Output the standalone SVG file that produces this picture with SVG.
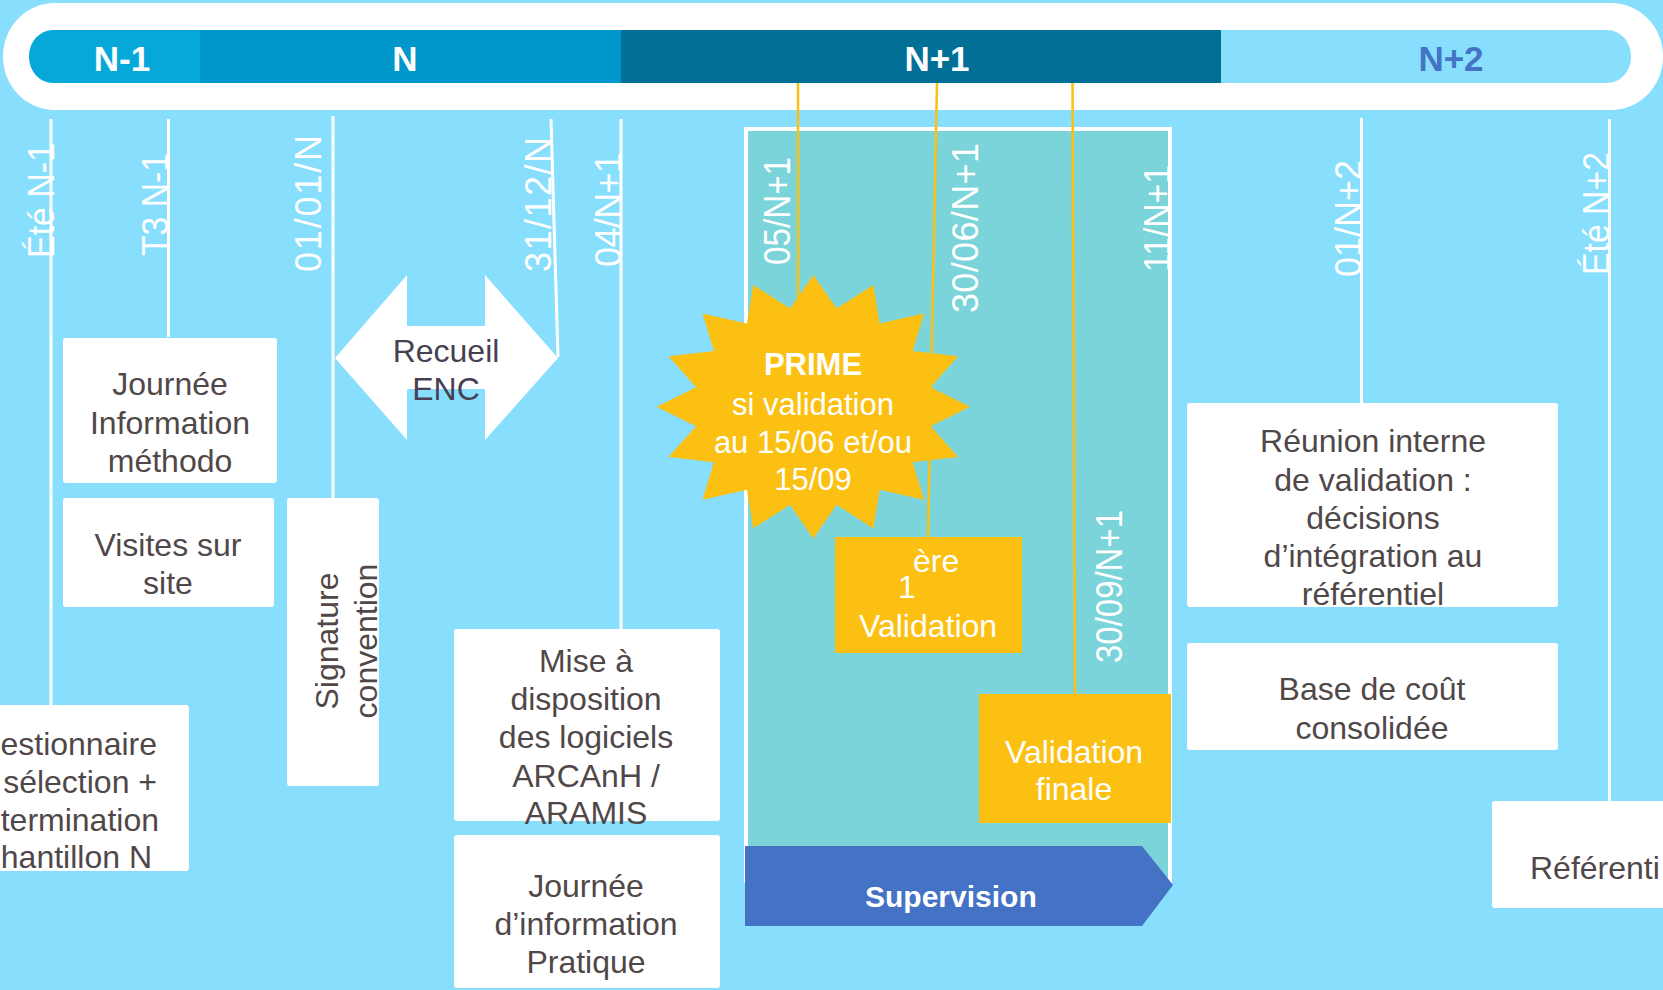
<svg xmlns="http://www.w3.org/2000/svg" width="1663" height="990" viewBox="0 0 1663 990">
<style>
.t{font-family:"Liberation Sans",Arial,sans-serif;font-size:32px;fill:#504848;text-anchor:middle}
.w{font-family:"Liberation Sans",Arial,sans-serif;font-size:32px;fill:#fff;text-anchor:middle}
.d{font-family:"Liberation Sans",Arial,sans-serif;font-size:36px;fill:#fff}
.yr{font-family:"Liberation Sans",Arial,sans-serif;font-size:35px;font-weight:bold;text-anchor:middle}
.box{fill:#fff}
.ybox{fill:#FBC012}
.wl{stroke:#fff;stroke-width:3;fill:none}
.yl{stroke:#FBC012;stroke-width:2.5;fill:none}
</style>
<defs>
<clipPath id="barclip"><rect x="29" y="30" width="1602" height="53" rx="24" ry="26"/></clipPath>
</defs>
<rect x="0" y="0" width="1663" height="990" fill="#87DEFD"/>

<g id="timeline">
<rect x="3" y="3" width="1660" height="107" rx="52" ry="53" fill="#fff"/>
<g clip-path="url(#barclip)">
<rect x="29" y="30" width="172" height="53" fill="#06A7D9"/>
<rect x="200" y="30" width="422" height="53" fill="#0098CB"/>
<rect x="621" y="30" width="601" height="53" fill="#026F97"/>
<rect x="1221" y="30" width="410" height="53" fill="#87DEFD"/>
</g>
<text class="yr" x="122" y="71" fill="#fff">N-1</text>
<text class="yr" x="405" y="71" fill="#fff">N</text>
<text class="yr" x="937" y="71" fill="#fff">N+1</text>
<text class="yr" x="1451" y="71" fill="#4472C4">N+2</text>
</g>

<g id="period-n1">
<rect x="746" y="129" width="424" height="752" fill="#7BD4D9" stroke="#fff" stroke-width="4"/>
</g>

<g id="connectors">
<line class="wl" x1="51" y1="119" x2="51" y2="705"/>
<line class="wl" x1="168.5" y1="119" x2="168.5" y2="337"/>
<line class="wl" x1="333" y1="116" x2="333" y2="498"/>
<line class="wl" x1="551" y1="119" x2="558" y2="357"/>
<line class="wl" x1="621" y1="119" x2="621" y2="629"/>
<line class="wl" x1="1361.5" y1="118" x2="1361.5" y2="403"/>
<line class="wl" x1="1609.5" y1="119" x2="1609.5" y2="801"/>
<line class="yl" x1="798" y1="83" x2="798" y2="300"/>
<line class="yl" x1="937" y1="83" x2="928" y2="537"/>
<line class="yl" x1="1072.5" y1="83" x2="1075" y2="694"/>
</g>

<g id="dates">
<text class="d" transform="translate(54,258) rotate(-90)" textLength="115" lengthAdjust="spacingAndGlyphs">Été N-1</text>
<text class="d" transform="translate(168,256) rotate(-90)" textLength="103" lengthAdjust="spacingAndGlyphs">T3 N-1</text>
<text class="d" transform="translate(321,272) rotate(-90)" textLength="137">01/01/N</text>
<text class="d" transform="translate(551,272) rotate(-90)" textLength="135">31/12/N</text>
<text class="d" transform="translate(621,267) rotate(-90)" textLength="114">04/N+1</text>
<text class="d" transform="translate(790,265) rotate(-90)" textLength="108" lengthAdjust="spacingAndGlyphs">05/N+1</text>
<text class="d" transform="translate(978,313) rotate(-90)" textLength="170">30/06/N+1</text>
<text class="d" transform="translate(1122,663) rotate(-90)" textLength="153" lengthAdjust="spacingAndGlyphs">30/09/N+1</text>
<text class="d" transform="translate(1170,272) rotate(-90)" textLength="107" lengthAdjust="spacingAndGlyphs">11/N+1</text>
<text class="d" transform="translate(1361,277) rotate(-90)" textLength="117">01/N+2</text>
<text class="d" transform="translate(1609,275) rotate(-90)" textLength="123" lengthAdjust="spacingAndGlyphs">Été N+2</text>
</g>

<g id="journee-info">
<rect class="box" x="63" y="338" width="214" height="145" rx="3"/>
<text class="t" x="170" y="395">Journée</text>
<text class="t" x="170" y="434">Information</text>
<text class="t" x="170" y="472">méthodo</text>
</g>

<g id="visites">
<rect class="box" x="63" y="498" width="211" height="109" rx="3"/>
<text class="t" x="168" y="556">Visites sur</text>
<text class="t" x="168" y="594">site</text>
</g>

<g id="questionnaire">
<rect class="box" x="-10" y="705" width="199" height="166" rx="3"/>
<text class="t" x="157" y="755" style="text-anchor:end">estionnaire</text>
<text class="t" x="157" y="793" style="text-anchor:end">sélection +</text>
<text class="t" x="159" y="831" style="text-anchor:end">termination</text>
<text class="t" x="152" y="868" style="text-anchor:end">hantillon N</text>
</g>

<g id="signature">
<rect class="box" x="287" y="498" width="92" height="288" rx="3"/>
<text class="t" transform="translate(338,641) rotate(-90)">Signature</text>
<text class="t" transform="translate(377,641) rotate(-90)">convention</text>
</g>

<g id="recueil">
<polygon fill="#fff" points="335,358 407,275 407,326 485,326 485,275 558,358 485,440 485,389 407,389 407,440"/>
<text class="t" x="446" y="362" style="fill:#473F52">Recueil</text>
<text class="t" x="446" y="400" style="fill:#473F52">ENC</text>
</g>

<g id="mise-a-dispo">
<rect class="box" x="454" y="629" width="266" height="192" rx="3"/>
<text class="t" x="586" y="672">Mise à</text>
<text class="t" x="586" y="710">disposition</text>
<text class="t" x="586" y="748">des logiciels</text>
<text class="t" x="586" y="787">ARCAnH /</text>
<text class="t" x="586" y="824">ARAMIS</text>
</g>

<g id="journee-pratique">
<rect class="box" x="454" y="835" width="266" height="153" rx="3"/>
<text class="t" x="586" y="897">Journée</text>
<text class="t" x="586" y="935">d’information</text>
<text class="t" x="586" y="973">Pratique</text>
</g>

<g id="prime">
<polygon fill="#FBC012" points="813.3,275 836.6,308.6 873.3,285 879.7,323.6 924.1,313.6 912.7,351.1 958.1,356.3 930.5,387.2 970,406.7 930.5,426.2 958.1,457.1 912.7,462.3 924.1,499.8 879.7,489.8 873.3,528.4 836.6,504.8 813.3,538.4 790,504.8 753.3,528.4 746.9,489.8 702.5,499.8 713.9,462.3 668.5,457.1 696.1,426.2 656.6,406.7 696.1,387.2 668.5,356.3 713.9,351.1 702.5,313.6 746.9,323.6 753.3,285 790,308.6"/>
<text class="w" x="813" y="375" style="font-weight:bold;font-size:31px">PRIME</text>
<text class="w" x="813" y="415" style="font-size:31px">si validation</text>
<text class="w" x="813" y="453" style="font-size:31px">au 15/06 et/ou</text>
<text class="w" x="813" y="490" style="font-size:31px">15/09</text>
</g>

<g id="premiere-validation">
<rect class="ybox" x="835" y="537" width="187" height="116"/>
<text class="w" x="898" y="598" style="text-anchor:start">1</text>
<text class="w" x="913" y="572" style="text-anchor:start">ère</text>
<text class="w" x="928" y="637">Validation</text>
</g>

<g id="validation-finale">
<rect class="ybox" x="979" y="694" width="192" height="129"/>
<text class="w" x="1074" y="763">Validation</text>
<text class="w" x="1074" y="800">finale</text>
</g>

<g id="supervision">
<polygon fill="#4472C4" points="745,846 1142,846 1173,885 1142,926 745,926"/>
<text class="w" x="865" y="907" style="text-anchor:start;font-weight:bold;font-size:30px">Supervision</text>
</g>

<g id="reunion">
<rect class="box" x="1187" y="403" width="371" height="204" rx="3"/>
<text class="t" x="1373" y="452">Réunion interne</text>
<text class="t" x="1373" y="491">de validation :</text>
<text class="t" x="1373" y="529">décisions</text>
<text class="t" x="1373" y="567">d’intégration au</text>
<text class="t" x="1373" y="605">référentiel</text>
</g>

<g id="base-cout">
<rect class="box" x="1187" y="643" width="371" height="107" rx="3"/>
<text class="t" x="1372" y="700">Base de coût</text>
<text class="t" x="1372" y="739">consolidée</text>
</g>

<g id="referentiel">
<rect class="box" x="1492" y="801" width="180" height="107" rx="3"/>
<text class="t" x="1530" y="879" style="text-anchor:start">Référenti</text>
</g>
</svg>
